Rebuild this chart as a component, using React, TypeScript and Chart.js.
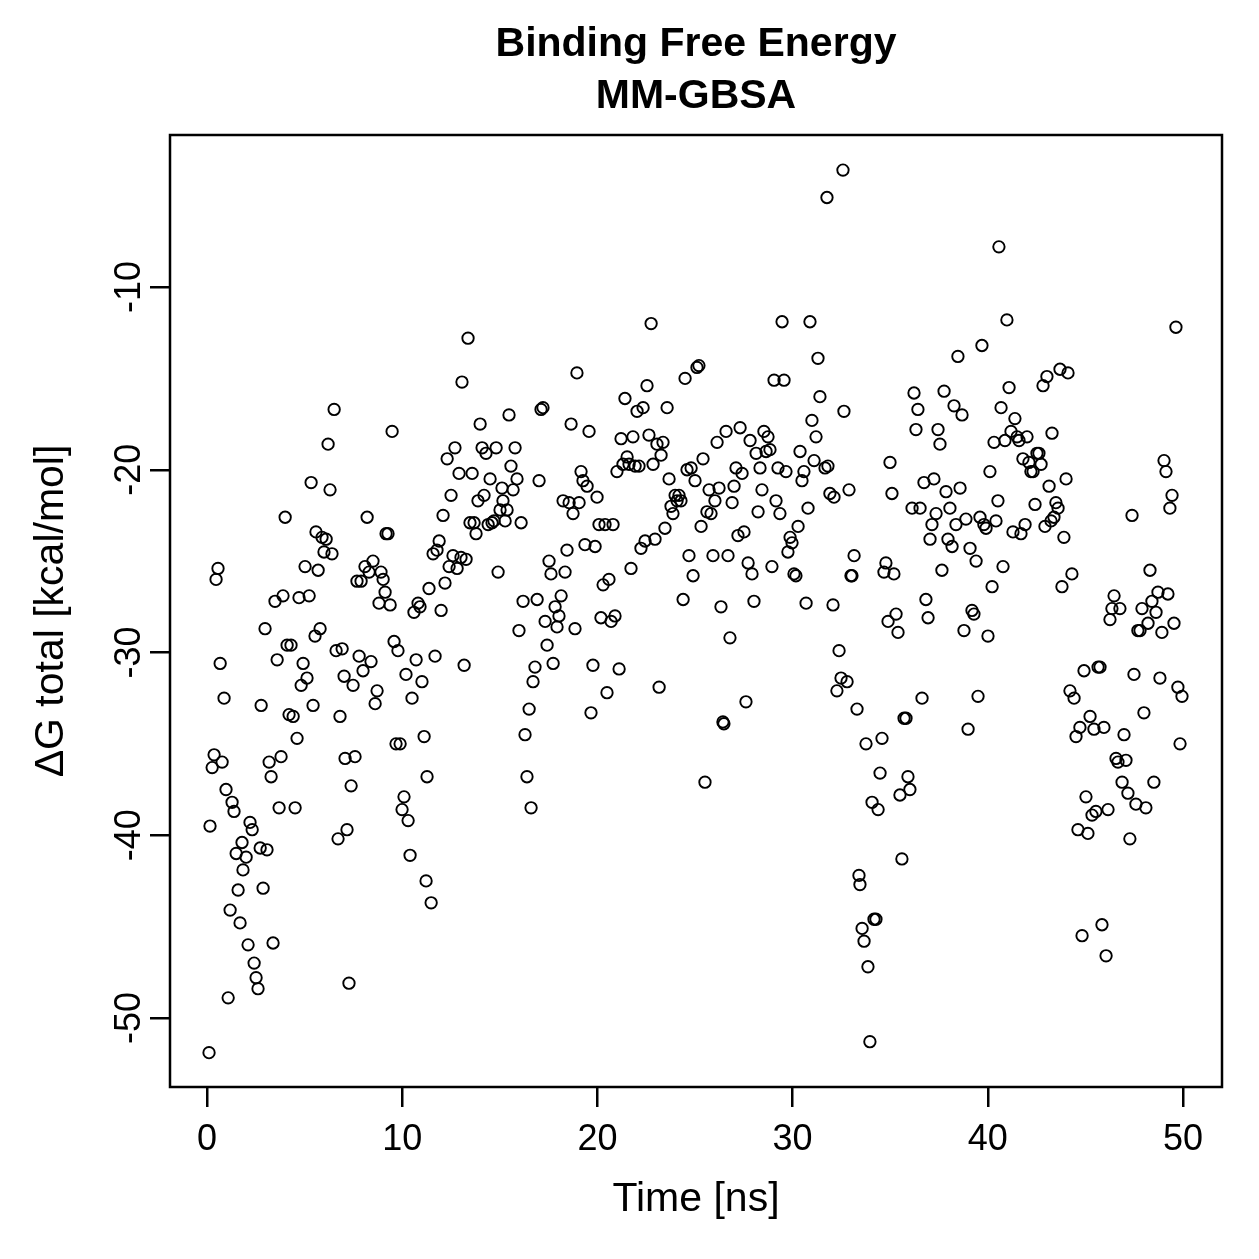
import React, { useEffect, useRef } from 'react';
import { Chart, registerables } from 'chart.js';

Chart.register(...registerables);

const timeNs = [
  0.10, 0.15, 0.26, 0.36, 0.46, 0.56, 0.67, 0.77, 0.87, 0.97, 1.08, 1.18, 1.28, 1.38, 1.49, 1.59, 1.69, 1.79, 1.84, 2.00,
  2.10, 2.20, 2.31, 2.41, 2.51, 2.61, 2.72, 2.77, 2.87, 2.97, 3.07, 3.18, 3.28, 3.38, 3.48, 3.59, 3.69, 3.79, 3.89, 4.00,
  4.10, 4.20, 4.30, 4.41, 4.51, 4.61, 4.71, 4.82, 4.92, 5.02, 5.12, 5.23, 5.33, 5.43, 5.53, 5.58, 5.69, 5.79, 5.89, 5.99,
  6.10, 6.20, 6.30, 6.40, 6.51, 6.61, 6.71, 6.81, 6.92, 7.02, 7.07, 7.17, 7.27, 7.38, 7.48, 7.58, 7.68, 7.79, 7.89, 7.99,
  8.09, 8.20, 8.30, 8.40, 8.50, 8.61, 8.71, 8.81, 8.91, 9.02, 9.12, 9.17, 9.27, 9.38, 9.48, 9.58, 9.68, 9.78, 9.89, 9.99,
  10.09, 10.19, 10.30, 10.40, 10.50, 10.60, 10.71, 10.81, 10.91, 11.01, 11.12, 11.22, 11.27, 11.37, 11.48, 11.58, 11.68, 11.78, 11.89, 11.99,
  12.09, 12.19, 12.30, 12.40, 12.50, 12.60, 12.70, 12.81, 12.91, 13.01, 13.06, 13.17, 13.27, 13.37, 13.47, 13.58, 13.68, 13.78, 13.88, 13.99,
  14.09, 14.19, 14.29, 14.40, 14.50, 14.60, 14.70, 14.81, 14.91, 15.01, 15.11, 15.16, 15.27, 15.37, 15.47, 15.57, 15.68, 15.78, 15.88, 15.98,
  16.09, 16.19, 16.29, 16.39, 16.50, 16.60, 16.70, 16.80, 16.91, 17.01, 17.11, 17.21, 17.32, 17.42, 17.52, 17.62, 17.73, 17.83, 17.93, 18.03,
  18.14, 18.24, 18.34, 18.44, 18.55, 18.65, 18.75, 18.85, 18.95, 19.06, 19.16, 19.26, 19.36, 19.47, 19.57, 19.67, 19.77, 19.88, 19.98, 20.08,
  20.18, 20.29, 20.39, 20.49, 20.59, 20.70, 20.80, 20.90, 21.00, 21.11, 21.21, 21.31, 21.41, 21.52, 21.62, 21.72, 21.82, 21.93, 22.03, 22.13,
  22.23, 22.34, 22.44, 22.54, 22.64, 22.75, 22.85, 22.95, 23.05, 23.16, 23.26, 23.36, 23.46, 23.57, 23.67, 23.77, 23.87, 23.98, 24.08, 24.18,
  24.28, 24.39, 24.49, 24.59, 24.69, 24.80, 24.90, 25.00, 25.10, 25.20, 25.31, 25.41, 25.51, 25.61, 25.72, 25.82, 25.92, 26.02, 26.13, 26.23,
  26.33, 26.43, 26.48, 26.59, 26.69, 26.79, 26.90, 27.00, 27.10, 27.20, 27.31, 27.41, 27.51, 27.61, 27.72, 27.82, 27.92, 28.02, 28.13, 28.23,
  28.33, 28.43, 28.53, 28.64, 28.74, 28.84, 28.94, 29.05, 29.15, 29.25, 29.35, 29.46, 29.56, 29.66, 29.76, 29.87, 29.97, 30.07, 30.17, 30.28,
  30.38, 30.48, 30.58, 30.69, 30.79, 30.89, 30.99, 31.10, 31.20, 31.30, 31.40, 31.66, 31.81, 31.76, 31.91, 32.07, 32.12, 32.27, 32.38, 32.48,
  32.58, 32.63, 32.79, 32.89, 32.99, 33.04, 33.15, 33.30, 33.40, 33.45, 33.56, 33.66, 33.76, 33.86, 33.96, 34.07, 34.17, 34.27, 34.38, 34.48,
  34.58, 34.68, 34.78, 34.89, 34.99, 35.09, 35.19, 35.30, 35.40, 35.50, 35.60, 35.71, 35.81, 35.91, 36.01, 36.12, 36.22, 36.32, 36.42, 36.53,
  36.63, 36.73, 36.83, 36.94, 37.04, 37.14, 37.24, 37.35, 37.45, 37.55, 37.65, 37.76, 37.86, 37.96, 38.06, 38.17, 38.27, 38.37, 38.47, 38.58,
  38.68, 38.78, 38.88, 38.99, 39.09, 39.19, 39.29, 39.40, 39.50, 39.60, 39.70, 39.80, 39.91, 40.01, 40.11, 40.22, 40.32, 40.42, 40.52, 40.57,
  40.68, 40.78, 40.88, 40.98, 41.09, 41.19, 41.29, 41.39, 41.50, 41.60, 41.70, 41.80, 41.91, 42.01, 42.11, 42.21, 42.32, 42.42, 42.52, 42.62,
  42.73, 42.83, 42.93, 43.03, 43.14, 43.24, 43.29, 43.39, 43.49, 43.60, 43.70, 43.80, 43.90, 44.01, 44.11, 44.21, 44.31, 44.42, 44.52, 44.62,
  44.72, 44.83, 44.93, 45.03, 45.13, 45.24, 45.34, 45.44, 45.54, 45.65, 45.75, 45.85, 45.95, 46.06, 46.16, 46.26, 46.36, 46.47, 46.57, 46.67,
  46.77, 46.88, 46.98, 47.08, 47.18, 47.28, 47.39, 47.49, 47.59, 47.69, 47.80, 47.90, 48.00, 48.10, 48.21, 48.31, 48.41, 48.51, 48.62, 48.72,
  48.82, 48.92, 49.03, 49.13, 49.23, 49.33, 49.44, 49.54, 49.64, 49.74, 49.85, 49.95,
];

const deltaG = [
  -51.9, -39.5, -36.3, -35.6, -26.0, -25.4, -30.6, -36.0, -32.5, -37.5, -48.9, -44.1, -38.2, -38.7, -41.0, -43.0, -44.8, -40.4, -41.9, -41.2,
  -46.0, -39.3, -39.7, -47.0, -47.8, -48.4, -40.7, -32.9, -42.9, -28.7, -40.8, -36.0, -36.8, -45.9, -27.2, -30.4, -38.5, -35.7, -26.9, -22.6,
  -29.6, -33.4, -29.6, -33.5, -38.5, -34.7, -27.0, -31.8, -30.6, -25.3, -31.4, -26.9, -20.7, -32.9, -29.1, -23.4, -25.5, -28.7, -23.7, -24.5,
  -23.8, -18.6, -21.1, -24.6, -16.7, -29.9, -40.2, -33.5, -29.8, -31.3, -35.8, -39.7, -48.1, -37.3, -31.8, -35.7, -26.1, -30.2, -26.1, -31.0,
  -25.3, -22.6, -25.6, -30.5, -25.0, -32.8, -32.1, -27.3, -25.6, -26.0, -26.7, -23.5, -23.5, -27.4, -17.9, -29.4, -35.0, -29.9, -35.0, -38.6,
  -37.9, -31.2, -39.2, -41.1, -32.5, -27.8, -30.4, -27.3, -27.5, -31.6, -34.6, -42.5, -36.8, -26.5, -43.7, -24.6, -30.2, -24.4, -23.9, -27.7,
  -22.5, -26.2, -19.4, -25.3, -21.4, -24.7, -18.8, -25.4, -20.2, -24.8, -15.2, -30.7, -24.9, -12.8, -22.9, -20.2, -22.9, -23.5, -21.7, -17.5,
  -18.8, -21.4, -19.1, -23.0, -20.5, -22.9, -22.8, -18.8, -25.6, -22.2, -21.0, -21.7, -22.8, -22.2, -17.0, -19.8, -21.1, -18.8, -20.5, -28.8,
  -22.9, -27.2, -34.5, -36.8, -33.1, -38.5, -31.6, -30.8, -27.1, -20.6, -16.7, -16.6, -28.3, -29.6, -25.0, -25.7, -30.6, -27.5, -28.6, -28.0,
  -26.9, -21.7, -25.6, -24.4, -21.8, -17.5, -22.4, -28.7, -14.7, -21.8, -20.1, -20.6, -24.1, -20.9, -17.9, -33.3, -30.7, -24.2, -21.5, -23.0,
  -28.1, -26.3, -23.0, -32.2, -26.0, -28.3, -23.0, -28.0, -20.1, -30.9, -18.3, -19.7, -16.1, -19.3, -19.7, -25.4, -18.2, -19.8, -16.8, -19.8,
  -24.3, -16.6, -23.9, -15.4, -18.1, -12.0, -19.7, -23.8, -18.6, -31.9, -19.2, -18.5, -23.2, -16.6, -20.5, -22.0, -22.4, -21.4, -21.7, -21.4,
  -21.7, -27.1, -15.0, -20.0, -24.7, -19.9, -25.8, -20.6, -14.4, -14.3, -23.1, -19.4, -37.1, -22.3, -21.1, -22.4, -24.7, -21.7, -18.5, -21.0,
  -27.5, -33.8, -33.9, -17.9, -24.7, -29.2, -21.8, -20.9, -19.9, -23.6, -17.7, -20.2, -23.4, -32.7, -25.1, -18.4, -25.7, -27.2, -19.1, -22.3,
  -19.9, -21.1, -17.9, -19.0, -18.2, -18.9, -25.3, -15.1, -21.7, -19.9, -22.4, -11.9, -15.1, -20.1, -24.5, -23.7, -24.0, -25.7, -25.8, -23.1,
  -19.0, -20.6, -20.1, -27.3, -22.1, -11.9, -17.3, -19.5, -18.2, -13.9, -16.0, -19.9, -19.8, -5.1, -21.3, -27.4, -21.5, -32.1, -29.9, -31.4,
  -3.6, -16.8, -31.6, -21.1, -25.8, -25.8, -24.7, -33.1, -42.2, -42.7, -45.1, -45.8, -35.0, -47.2, -51.3, -38.2, -44.6, -44.6, -38.6, -36.6,
  -34.7, -25.6, -25.1, -28.3, -19.6, -21.3, -25.7, -27.9, -28.9, -37.8, -41.3, -33.6, -33.6, -36.8, -37.5, -22.1, -15.8, -17.8, -16.7, -22.1,
  -32.5, -20.7, -27.1, -28.1, -23.8, -23.0, -20.5, -22.4, -17.8, -18.6, -25.5, -15.7, -21.2, -23.8, -22.1, -24.2, -16.5, -23.0, -13.8, -21.0,
  -17.0, -28.8, -22.7, -34.2, -24.3, -27.7, -27.9, -25.0, -32.4, -22.6, -13.2, -23.0, -23.2, -29.1, -20.1, -26.4, -18.5, -22.8, -21.7, -7.8,
  -16.6, -25.3, -18.4, -11.8, -15.5, -17.9, -23.4, -17.2, -18.2, -18.4, -23.5, -19.4, -23.0, -18.2, -19.6, -20.1, -20.1, -21.9, -19.1, -19.1,
  -19.7, -15.4, -23.1, -14.9, -20.9, -22.8, -18.0, -22.6, -21.8, -22.1, -14.5, -26.4, -23.7, -20.5, -14.7, -32.1, -25.7, -32.5, -34.6, -39.7,
  -34.1, -45.5, -31.0, -37.9, -39.9, -33.5, -38.9, -34.2, -38.7, -30.8, -30.8, -44.9, -34.1, -46.6, -38.6, -28.2, -27.6, -26.9, -35.8, -36.0,
  -27.6, -37.1, -34.5, -35.9, -37.7, -40.2, -22.5, -31.2, -38.3, -28.8, -28.8, -27.6, -33.3, -38.5, -28.4, -25.5, -27.2, -37.1, -27.8, -26.7,
  -31.4, -28.9, -19.5, -20.1, -26.8, -22.1, -21.4, -28.4, -12.2, -31.9, -35.0, -32.4,
];

const xTicks = [0, 10, 20, 30, 40, 50];
const yTicks = [-50, -40, -30, -20, -10];
const titleLines = ['Binding Free Energy', 'MM-GBSA'];
const xLabel = 'Time [ns]';
const yLabel = '\u0394G total [kcal/mol]';

const FONT = '"Liberation Sans", Arial, Helvetica, sans-serif';

const rStylePlugin = {
  id: 'rStyle',
  afterDraw(chart: any) {
    const { ctx, chartArea: a, scales } = chart;
    ctx.save();
    ctx.strokeStyle = '#000';
    ctx.lineWidth = 2.5;
    ctx.strokeRect(a.left, a.top, a.right - a.left, a.bottom - a.top);
    ctx.fillStyle = '#000';
    ctx.textAlign = 'center';
    ctx.textBaseline = 'middle';
    const cx = (a.left + a.right) / 2;
    ctx.font = `bold 41px ${FONT}`;
    ctx.fillText(titleLines[0], cx, 45);
    ctx.fillText(titleLines[1], cx, 97);
    ctx.font = `41px ${FONT}`;
    ctx.fillText(xLabel, cx, 1200);
    ctx.save();
    ctx.translate(52, (a.top + a.bottom) / 2);
    ctx.rotate(-Math.PI / 2);
    ctx.fillText(yLabel, 0, 0);
    ctx.restore();
    ctx.font = `36px ${FONT}`;
    xTicks.forEach((v) => {
      ctx.fillText(String(v), scales.x.getPixelForValue(v), 1140);
    });
    yTicks.forEach((v) => {
      ctx.save();
      ctx.translate(130, scales.y.getPixelForValue(v));
      ctx.rotate(-Math.PI / 2);
      ctx.fillText(String(v), 0, 0);
      ctx.restore();
    });
    ctx.restore();
  },
};

export default function App() {
  const ref = useRef<HTMLCanvasElement | null>(null);
  useEffect(() => {
    document.body.style.margin = '0';
    const canvas = ref.current;
    if (!canvas) return;
    const chart = new Chart(canvas, {
      type: 'scatter',
      data: {
        datasets: [
          {
            data: timeNs.map((t, i) => ({ x: t, y: deltaG[i] })),
            pointStyle: 'circle',
            pointRadius: 5.7,
            pointBorderWidth: 1.9,
            borderColor: '#000',
            backgroundColor: 'rgba(0,0,0,0)',
            pointBackgroundColor: 'rgba(0,0,0,0)',
            pointBorderColor: '#000',
          },
        ],
      },
      options: {
        responsive: false,
        animation: false,
        devicePixelRatio: 1,
        events: [],
        layout: { padding: { top: 135, right: 37, left: 0, bottom: 0 } },
        plugins: { legend: { display: false }, tooltip: { enabled: false }, title: { display: false } },
        scales: {
          x: {
            type: 'linear',
            min: -1.9,
            max: 52.0,
            afterBuildTicks: (s: any) => {
              s.ticks = xTicks.map((v) => ({ value: v }));
            },
            afterFit: (s: any) => {
              s.height = 172;
            },
            ticks: { display: false },
            border: { display: false },
            grid: { drawOnChartArea: false, drawTicks: true, tickLength: 20, color: '#000', lineWidth: 2.5 },
          },
          y: {
            type: 'linear',
            min: -53.78,
            max: -1.68,
            afterBuildTicks: (s: any) => {
              s.ticks = yTicks.map((v) => ({ value: v }));
            },
            afterFit: (s: any) => {
              s.width = 170;
            },
            ticks: { display: false },
            border: { display: false },
            grid: { drawOnChartArea: false, drawTicks: true, tickLength: 20, color: '#000', lineWidth: 2.5 },
          },
        },
      },
      plugins: [rStylePlugin],
    } as any);
    return () => chart.destroy();
  }, []);
  return (
    <div style={{ position: 'absolute', left: 0, top: 0, width: 1259, height: 1259, background: '#fff' }}>
      <canvas ref={ref} width={1259} height={1259} style={{ width: 1259, height: 1259, display: 'block' }} />
    </div>
  );
}
